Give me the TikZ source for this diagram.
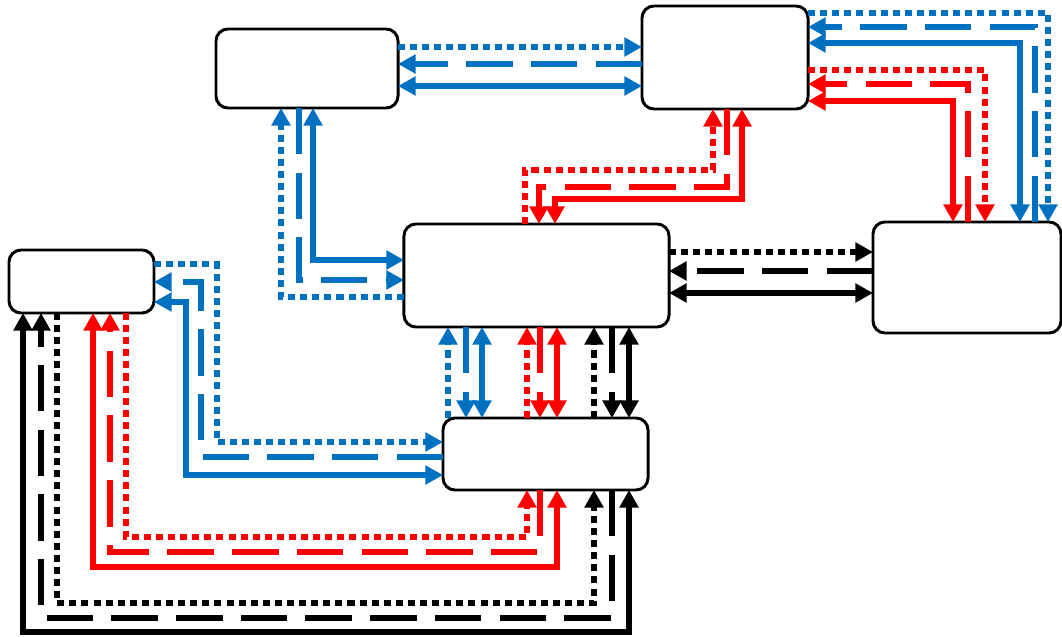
\documentclass[tikz,border=0pt]{standalone}
\usepackage{xcolor}
\usepackage{tikz}
\usetikzlibrary{arrows.meta}
\definecolor{linkblue}{HTML}{0070C0}
\definecolor{linkred}{HTML}{FF0000}
\begin{document}
\begin{tikzpicture}[x=0.025cm, y=-0.025cm,
    box/.style={draw, fill=white, line width=2.1pt, rounded corners=0.3cm, inner sep=0pt, outer sep=0pt},
    link/.style={line width=4.2pt},
    dotline/.style={link, dash pattern=on 5pt off 3.6pt},
    dashline/.style={link, dash pattern=on 33pt off 13pt},
    fullline/.style={link},
    >={Triangle[length=12.5pt, width=13pt]}]
    \useasboundingbox (0,0) rectangle (1062,636);
    \node[box, minimum width=4.55cm, minimum height=1.975cm] (A) at (307,68.5) {};
    \node[box, minimum width=4.15cm, minimum height=2.575cm] (B) at (725,57.5) {};
    \node[box, minimum width=6.625cm, minimum height=2.575cm] (C) at (536.5,275.5) {};
    \node[box, minimum width=4.7cm, minimum height=2.775cm] (D) at (967,277.5) {};
    \node[box, minimum width=3.625cm, minimum height=1.575cm] (E) at (81.5,281.5) {};
    \node[box, minimum width=5.125cm, minimum height=1.8cm] (F) at (545.5,454) {};
    % A and B
    \draw[linkblue, dotline, ->] (A.east |- 0,47) -- (B.west |- 0,47);
    \draw[linkblue, dashline, ->] (B.west |- 0,64) -- (A.east |- 0,64);
    \draw[linkblue, fullline, <->] (A.east |- 0,86) -- (B.west |- 0,86);
    % B and D
    \draw[linkblue, dotline, ->] (B.east |- 0,13) -- (1048,13) -- (D.north -| 1048,0);
    \draw[linkblue, dashline, ->] (D.north -| 1035,0) -- (1035,27) -- (B.east |- 0,27);
    \draw[linkblue, fullline, <->] (B.east |- 0,43) -- (1020,43) -- (D.north -| 1020,0);
    \draw[linkred, dotline, ->] (B.east |- 0,70) -- (985,70) -- (D.north -| 985,0);
    \draw[linkred, dashline, ->] (D.north -| 968,0) -- (968,84) -- (B.east |- 0,84);
    \draw[linkred, fullline, <->] (B.east |- 0,101) -- (953,101) -- (D.north -| 953,0);
    % C and B
    \draw[linkred, dotline, ->] (C.north -| 525,0) -- (525,170) -- (713,170) -- (B.south -| 713,0);
    \draw[linkred, dashline, ->] (B.south -| 727,0) -- (727,187) -- (539,187) -- (C.north -| 539,0);
    \draw[linkred, fullline, <->] (B.south -| 742,0) -- (742,199) -- (555,199) -- (C.north -| 555,0);
    % A and C
    \draw[linkblue, dotline, ->] (C.west |- 0,297) -- (281,297) -- (A.south -| 281,0);
    \draw[linkblue, dashline, ->] (A.south -| 299,0) -- (299,280) -- (C.west |- 0,280);
    \draw[linkblue, fullline, <->] (A.south -| 313,0) -- (313,260) -- (C.west |- 0,260);
    % C and D
    \draw[black, dotline, ->] (C.east |- 0,252) -- (D.west |- 0,252);
    \draw[black, dashline, ->] (D.west |- 0,271) -- (C.east |- 0,271);
    \draw[black, fullline, <->] (C.east |- 0,293) -- (D.west |- 0,293);
    % C and F
    \draw[linkblue, dotline, ->] (F.north -| 448,0) -- (C.south -| 448,0);
    \draw[linkblue, dashline, ->] (C.south -| 466,0) -- (F.north -| 466,0);
    \draw[linkblue, fullline, <->] (C.south -| 482,0) -- (F.north -| 482,0);
    \draw[linkred, dotline, ->] (F.north -| 527,0) -- (C.south -| 527,0);
    \draw[linkred, dashline, ->] (C.south -| 540,0) -- (F.north -| 540,0);
    \draw[linkred, fullline, <->] (C.south -| 557,0) -- (F.north -| 557,0);
    \draw[black, dotline, ->] (F.north -| 594,0) -- (C.south -| 594,0);
    \draw[black, dashline, ->] (C.south -| 612,0) -- (F.north -| 612,0);
    \draw[black, fullline, <->] (C.south -| 629,0) -- (F.north -| 629,0);
    % E and F
    \draw[linkblue, dotline, ->] (E.east |- 0,264) -- (217,264) -- (217,442) -- (F.west |- 0,442);
    \draw[linkblue, dashline, ->] (F.west |- 0,457) -- (201,457) -- (201,282) -- (E.east |- 0,282);
    \draw[linkblue, fullline, <->] (E.east |- 0,302) -- (186,302) -- (186,475) -- (F.west |- 0,475);
    \draw[linkred, dotline, ->] (E.south -| 126,0) -- (126,537) -- (527,537) -- (F.south -| 527,0);
    \draw[linkred, dashline, ->] (F.south -| 540,0) -- (540,552) -- (110,552) -- (E.south -| 110,0);
    \draw[linkred, fullline, <->] (E.south -| 93,0) -- (93,567) -- (557,567) -- (F.south -| 557,0);
    \draw[black, dotline, ->] (E.south -| 57,0) -- (57,603) -- (594,603) -- (F.south -| 594,0);
    \draw[black, dashline, ->] (F.south -| 612,0) -- (612,618) -- (41,618) -- (E.south -| 41,0);
    \draw[black, fullline, <->] (E.south -| 23,0) -- (23,632) -- (629,632) -- (F.south -| 629,0);
\end{tikzpicture}
\end{document}
